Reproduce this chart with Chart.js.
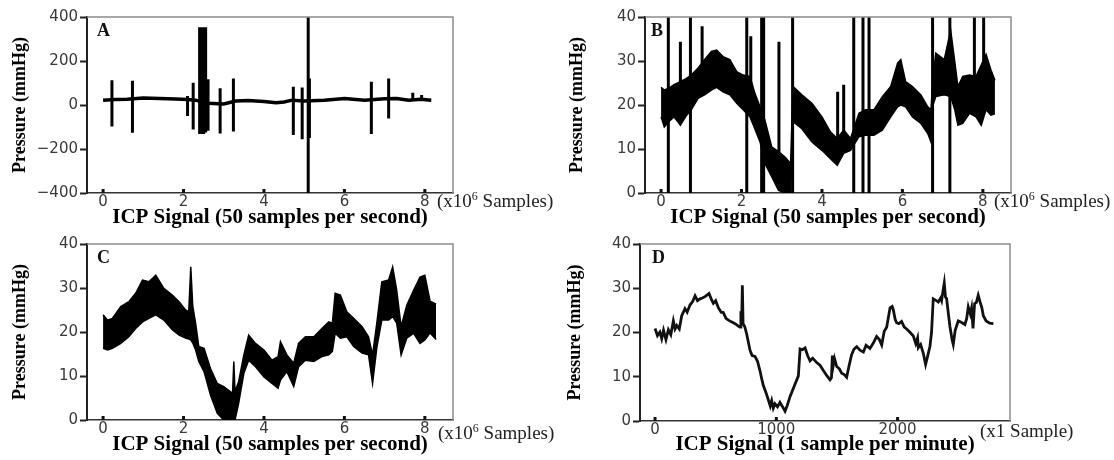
<!DOCTYPE html>
<html>
<head>
<meta charset="utf-8">
<script src="https://cdn.jsdelivr.net/npm/chart.js@4.4.1/dist/chart.umd.min.js"></script>
<style>
  body { margin: 0; background: #fff; width: 1114px; height: 460px; position: relative; overflow: hidden; }
  canvas { position: absolute; }
</style>
</head>
<body>
<canvas id="panel-a" width="557" height="230" style="left:0;top:0"></canvas>
<canvas id="panel-b" width="557" height="230" style="left:557px;top:0"></canvas>
<canvas id="panel-c" width="557" height="230" style="left:0;top:230px"></canvas>
<canvas id="panel-d" width="557" height="230" style="left:557px;top:230px"></canvas>
<script>
// Graduations
var xTicksSignal = [0, 2, 4, 6, 8];
var xTicksMinute = [0, 1000, 2000];
var yTicksRaw = [-400, -200, 0, 200, 400];
var yTicksZoom = [0, 10, 20, 30, 40];

// Panel A : signal brut (échelle -400..400)
var aBaseX = [0, 0.3, 0.6, 1.0, 1.4, 1.8, 2.1, 2.3, 2.6, 3.0, 3.3, 3.6, 4.0, 4.3, 4.5, 4.7, 5.0, 5.5, 6.0, 6.5, 7.0, 7.3, 7.6, 7.9, 8.16];
var aBaseY = [22, 25, 26, 32, 30, 27, 25, 22, 8, 5, 18, 20, 16, 10, 14, 22, 18, 22, 30, 22, 28, 30, 22, 26, 22];
var aSpikeX = [0.22, 0.73, 2.1, 2.24, 2.4, 2.45, 2.5, 2.55, 2.61, 2.91, 3.24, 4.73, 4.95, 5.1, 5.13, 6.67, 7.1, 7.7, 7.92];
var aSpikeLow = [-98, -126, -50, -111, -132, -132, -132, -125, -117, -129, -121, -136, -156, -400, -150, -132, -61, 22, 22];
var aSpikeHigh = [113, 110, 41, 101, 353, 353, 353, 353, 117, 76, 121, 83, 80, 400, 120, 106, 121, 56, 45];

// Panel B : même signal, zoom 0..40 avec artefacts
var bX = [0, 0.08, 0.19, 0.32, 0.48, 0.62, 0.75, 0.92, 1.08, 1.25, 1.38, 1.54, 1.71, 1.88, 2.04, 2.21, 2.33, 2.46, 2.58, 2.75, 2.92, 3.08, 3.22, 3.28, 3.5, 3.75, 4.0, 4.21, 4.38, 4.54, 4.71, 4.92, 5.08, 5.29, 5.5, 5.71, 5.88, 5.96, 6.08, 6.25, 6.46, 6.63, 6.71, 6.76, 6.83, 7.04, 7.2, 7.3, 7.38, 7.5, 7.67, 7.83, 7.96, 8.08, 8.2, 8.3];
var bUpper = [24, 23.4, 23.8, 24.6, 25.3, 26, 26.8, 28.4, 30.3, 32.2, 32.5, 31, 30.3, 27.6, 26.8, 26.5, 22.7, 19.6, 16.6, 10.5, 9.4, 8.2, 6.7, 24.2, 22.3, 20.4, 17.3, 13.9, 12.4, 14.3, 12.4, 18.1, 18.9, 18.9, 21.9, 24.2, 29.5, 30.3, 25.3, 24.2, 22.3, 19.6, 18.9, 26, 31.8, 30.3, 37, 30, 24.2, 26.5, 26.8, 26.5, 29.1, 31.5, 28, 25.6];
var bLower = [17.3, 15, 16.2, 17.3, 15.4, 17.5, 18.9, 21.5, 22.3, 23.4, 24, 23, 22.3, 20.4, 18.9, 17.3, 14.6, 11.6, 6.7, 3.7, 0.6, 0, 0, 16.2, 14.6, 11.6, 9.7, 7.8, 6.3, 9, 9.7, 12.8, 13.1, 13.1, 14.3, 17.3, 19.6, 20, 19.6, 17.3, 15.8, 13.5, 11.6, 20, 21.9, 22.3, 21.9, 19, 15.4, 15.8, 18.1, 17.3, 15.4, 18.9, 17.7, 18];
var bSpikeX = [0.18, 0.48, 0.73, 1.02, 2.13, 2.23, 2.5, 2.55, 2.93, 3.27, 4.39, 4.54, 4.79, 5.02, 5.17, 6.75, 7.18, 7.79, 8.02];
var bSpikeLow = [0, 17, 0, 25, 0, 18, 0, 0, 5, 0, 8, 10, 0, 0, 0, 0, 0, 22, 20];
var bSpikeHigh = [40, 34.4, 40, 37.9, 40, 35.6, 40, 40, 34.4, 40, 23, 24.6, 40, 40, 40, 40, 40, 40, 40];

// Panel C : signal nettoyé
var cX = [0, 0.11, 0.23, 0.44, 0.64, 0.81, 0.98, 1.14, 1.31, 1.51, 1.72, 1.89, 2.05, 2.13, 2.18, 2.23, 2.3, 2.38, 2.51, 2.67, 2.84, 3.0, 3.17, 3.22, 3.25, 3.28, 3.37, 3.5, 3.62, 3.79, 4.0, 4.2, 4.35, 4.41, 4.57, 4.74, 4.86, 5.03, 5.24, 5.44, 5.61, 5.7, 5.77, 5.9, 6.06, 6.23, 6.44, 6.6, 6.7, 6.81, 6.93, 7.1, 7.2, 7.3, 7.41, 7.55, 7.72, 7.88, 8.0, 8.13, 8.28];
var cUpper = [23.9, 22.7, 23.1, 25.8, 26.9, 28.8, 31.8, 31.4, 32.9, 29.9, 28.4, 26.9, 25, 24.6, 34.8, 25.8, 22, 16.7, 16.3, 11.7, 8.3, 7.6, 6.4, 6.2, 13.3, 6.5, 8.7, 14.8, 19.3, 17.4, 15.9, 13.6, 14.4, 17.8, 14.8, 12.9, 17.4, 18.9, 18.9, 20.8, 22.3, 22, 28.8, 28.4, 24.6, 23.1, 21.2, 18.9, 14.8, 22.3, 31.4, 31.8, 34.8, 29.5, 21.2, 26.1, 29.5, 32.5, 32.9, 27, 26.3];
var cLower = [16.3, 15.9, 16.3, 17.4, 18.9, 20.8, 22.3, 23.1, 23.9, 22.7, 20.5, 19.3, 18.6, 18.4, 18.2, 17.5, 15.9, 13.3, 11, 5.7, 1.5, 0, 0, 0, 0, 0, 3.8, 10.6, 13.6, 12.1, 9.8, 8.3, 7.2, 9.1, 11, 7.6, 12.1, 13.6, 13.3, 14.4, 14.8, 15.6, 19.7, 18.6, 18.9, 16.7, 15.2, 14.8, 8.3, 16.7, 22.7, 22.7, 23.5, 22, 14.8, 18.6, 19.7, 17.4, 18.2, 19.8, 18.3];

// Panel D : 1 échantillon par minute
var dX = [0, 20, 40, 55, 70, 90, 110, 130, 151, 165, 179, 200, 220, 247, 265, 288, 310, 330, 350, 371, 390, 412, 445, 465, 481, 500, 522, 545, 563, 585, 605, 630, 660, 690, 701, 708, 714, 720, 726, 740, 756, 783, 800, 824, 845, 865, 880, 893, 915, 934, 950, 962, 975, 989, 1010, 1030, 1050, 1072, 1090, 1113, 1154, 1182, 1196, 1215, 1237, 1258, 1278, 1300, 1333, 1360, 1388, 1415, 1443, 1455, 1462, 1470, 1480, 1498, 1520, 1539, 1560, 1580, 1600, 1621, 1640, 1663, 1690, 1718, 1740, 1772, 1800, 1827, 1850, 1869, 1890, 1910, 1938, 1955, 1965, 1980, 1992, 2010, 2033, 2055, 2075, 2100, 2130, 2150, 2165, 2171, 2190, 2212, 2231, 2250, 2267, 2280, 2294, 2320, 2336, 2355, 2363, 2375, 2385, 2395, 2404, 2420, 2432, 2450, 2459, 2475, 2500, 2525, 2555, 2570, 2583, 2600, 2610, 2622, 2635, 2650, 2665, 2680, 2695, 2707, 2730, 2760, 2790];
var dY = [20.9, 19.3, 20.1, 18.6, 20.5, 18.4, 20.6, 19.5, 22.6, 20.8, 21.6, 20.8, 23.8, 25.4, 24.6, 26.2, 27, 28.3, 27.2, 27.6, 27.8, 28.1, 28.8, 27.5, 26.6, 27.2, 25.6, 24.6, 24.5, 23.2, 22.8, 22.4, 22, 21.4, 21.2, 24.8, 21.8, 30.7, 22, 21.3, 19.6, 16, 14.8, 14.6, 13.5, 11.4, 9.5, 8, 6.4, 4.8, 3.4, 4.6, 2.9, 3.9, 3.2, 4.2, 3.3, 2.2, 3.5, 5.5, 8.3, 10.2, 16.3, 16.1, 16.5, 14.8, 13.6, 14.2, 13.2, 12.6, 11.4, 10.3, 9.3, 9.8, 14.8, 12.6, 14.1, 12.3, 11.8, 10.8, 10.5, 9.9, 12.5, 15, 16.2, 16.8, 16, 15.6, 17.1, 16.4, 17.6, 19.1, 18.4, 17.2, 20.3, 21.2, 25.6, 25.9, 25.1, 23, 22.2, 22, 22.5, 21.2, 20.8, 20.1, 19.2, 17.5, 18.8, 16.6, 17.3, 15.3, 12.8, 14.9, 16.9, 20, 27.6, 27.2, 26.9, 27.8, 27.2, 29.5, 31.2, 28, 27.7, 24, 21.3, 18.3, 17.3, 20.5, 22.6, 22.3, 21.8, 23.2, 25.8, 24.2, 25.5, 20.9, 26.5, 26.8, 28.4, 26.9, 25.6, 23.8, 22.6, 22.1, 22];

var xTitleHigh = 'ICP Signal (50 samples per second)';
var xTitleLow = 'ICP Signal (1 sample per minute)';

function pts(xs, ys) {
  return xs.map(function (x, i) { return { x: x, y: ys[i] }; });
}

// segments verticaux séparés par des trous (y = null)
function spikePts(xs, lows, highs) {
  var out = [];
  xs.forEach(function (x, i) {
    out.push({ x: x, y: lows[i] }, { x: x, y: highs[i] }, { x: x, y: null });
  });
  return out;
}

function fixedTicks(values) {
  return function (s) {
    s.ticks = values.map(function (v) { return { value: v }; });
  };
}

// cadre gris, petites graduations internes, lettre et unité
var panelDeco = {
  id: 'panelDeco',
  afterDraw: function (chart, args, o) {
    var ctx = chart.ctx, a = chart.chartArea, xs = chart.scales.x;
    ctx.save();
    ctx.strokeStyle = '#8c8c8c';
    ctx.lineWidth = 1.5;
    ctx.beginPath();
    ctx.moveTo(a.left, a.top);
    ctx.lineTo(a.right, a.top);
    ctx.lineTo(a.right, a.bottom);
    ctx.stroke();

    ctx.fillStyle = '#111';
    xs.ticks.forEach(function (t) {
      var px = xs.getPixelForValue(t.value);
      ctx.fillRect(px - 1.5, a.bottom - 4, 3, 4);
    });

    ctx.font = 'bold 18px "Liberation Serif"';
    ctx.textBaseline = 'top';
    ctx.fillText(o.letter, a.left + o.letterDx, a.top + 5);

    ctx.textBaseline = 'alphabetic';
    ctx.fillStyle = '#222';
    ctx.font = '19px "Liberation Serif"';
    var x = o.unitX;
    ctx.fillText(o.unitPre, x, o.unitY);
    x += ctx.measureText(o.unitPre).width;
    if (o.unitSup) {
      ctx.font = '12px "Liberation Serif"';
      ctx.fillText(o.unitSup, x, o.unitY - 7);
      x += ctx.measureText(o.unitSup).width;
      ctx.font = '19px "Liberation Serif"';
    }
    ctx.fillText(o.unitPost, x, o.unitY);
    ctx.restore();
  }
};

var tickFont = { family: '"DejaVu Sans"', size: 15 };

function makePanel(id, p) {
  new Chart(document.getElementById(id), {
    type: 'line',
    data: { datasets: p.datasets },
    options: {
      responsive: false,
      animation: false,
      devicePixelRatio: 1,
      layout: { padding: p.pad },
      elements: { point: { radius: 0 }, line: { tension: 0, borderCapStyle: 'butt' } },
      plugins: { legend: { display: false }, tooltip: { enabled: false }, panelDeco: p.deco },
      scales: {
        x: {
          type: 'linear',
          min: p.xMin,
          max: p.xMax,
          afterBuildTicks: fixedTicks(p.xTicks),
          afterFit: function (s) { s.height = p.xHeight; },
          grid: { display: false, drawTicks: false },
          border: { display: true, color: '#333', width: 1.5 },
          ticks: {
            padding: 0, maxRotation: 0, autoSkip: false,
            color: '#3a3a3a', font: tickFont,
            callback: function (v) { return String(v); }
          },
          title: {
            display: true, text: p.xTitle, color: '#000',
            font: { family: '"Liberation Serif"', size: 21, weight: 'bold' },
            padding: { top: 0, bottom: p.xTitlePad }
          }
        },
        y: {
          min: p.yMin,
          max: p.yMax,
          afterBuildTicks: fixedTicks(p.yTicks),
          afterFit: function (s) { s.width = p.yWidth; },
          grid: { drawOnChartArea: false, tickLength: 7, tickWidth: 2, color: '#222' },
          border: { display: true, color: '#222', width: 2 },
          ticks: {
            padding: 2, color: '#3a3a3a', font: tickFont, autoSkip: false,
            callback: function (v) { return String(v).replace('-', '\u2212'); }
          },
          title: {
            display: true, text: 'Pressure (mmHg)', color: '#000',
            font: { family: '"Liberation Serif"', size: 18, weight: 'bold' },
            padding: 0
          }
        }
      }
    },
    plugins: [panelDeco]
  });
}

function bandSets(xs, up, low) {
  return [
    { data: pts(xs, up), borderColor: '#000', borderWidth: 1.5, fill: false },
    { data: pts(xs, low), borderColor: '#000', borderWidth: 1.5, backgroundColor: '#000', fill: '-1' }
  ];
}

makePanel('panel-a', {
  datasets: [
    { data: pts(aBaseX, aBaseY), borderColor: '#000', borderWidth: 3.5, fill: false },
    { data: spikePts(aSpikeX, aSpikeLow, aSpikeHigh), borderColor: '#000', borderWidth: 3, fill: false, spanGaps: false }
  ],
  pad: { left: 10, top: 17, right: 104, bottom: 0 },
  xMin: -0.4, xMax: 8.7, xTicks: xTicksSignal, xHeight: 37, xTitle: xTitleHigh, xTitlePad: 0,
  yMin: -400, yMax: 400, yTicks: yTicksRaw, yWidth: 77,
  deco: { letter: 'A', letterDx: 10, unitX: 437, unitY: 207, unitPre: '(x10', unitSup: '6', unitPost: ' Samples)' }
});

makePanel('panel-b', {
  datasets: bandSets(bX, bUpper, bLower).concat([
    { data: spikePts(bSpikeX, bSpikeLow, bSpikeHigh), borderColor: '#000', borderWidth: 3, fill: false, spanGaps: false }
  ]),
  pad: { left: 10, top: 17, right: 103, bottom: 0 },
  xMin: -0.4, xMax: 8.7, xTicks: xTicksSignal, xHeight: 37, xTitle: xTitleHigh, xTitlePad: 0,
  yMin: 0, yMax: 40, yTicks: yTicksZoom, yWidth: 78,
  deco: { letter: 'B', letterDx: 6, unitX: 437, unitY: 207, unitPre: '(x10', unitSup: '6', unitPost: ' Samples)' }
});

makePanel('panel-c', {
  datasets: bandSets(cX, cUpper, cLower),
  pad: { left: 10, top: 14, right: 104, bottom: 0 },
  xMin: -0.4, xMax: 8.7, xTicks: xTicksSignal, xHeight: 40, xTitle: xTitleHigh, xTitlePad: 3,
  yMin: 0, yMax: 40, yTicks: yTicksZoom, yWidth: 77,
  deco: { letter: 'C', letterDx: 10, unitX: 438, unitY: 209, unitPre: '(x10', unitSup: '6', unitPost: ' Samples)' }
});

makePanel('panel-d', {
  datasets: [
    { data: pts(dX, dY), borderColor: '#111', borderWidth: 2.8, fill: false }
  ],
  pad: { left: 8, top: 14, right: 104, bottom: 0 },
  xMin: -124, xMax: 2927, xTicks: xTicksMinute, xHeight: 39, xTitle: xTitleLow, xTitlePad: 3,
  yMin: 0, yMax: 40, yTicks: yTicksZoom, yWidth: 75,
  deco: { letter: 'D', letterDx: 12, unitX: 423, unitY: 207, unitPre: '(x1 Sample)', unitSup: '', unitPost: '' }
});
</script>
</body>
</html>
